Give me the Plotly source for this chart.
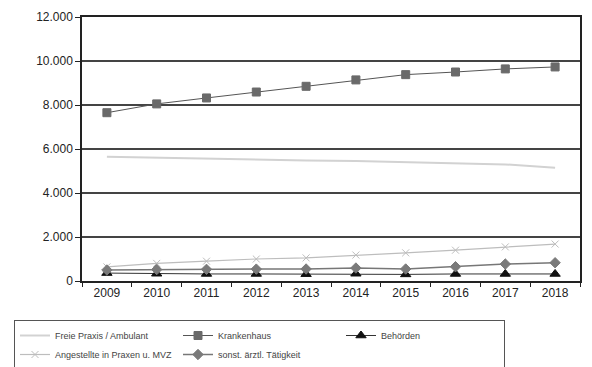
import plotly.graph_objects as go

years = ["2009", "2010", "2011", "2012", "2013", "2014", "2015", "2016", "2017", "2018"]

freie_praxis = [5650, 5600, 5550, 5520, 5480, 5450, 5400, 5350, 5300, 5150]
krankenhaus = [7650, 8050, 8320, 8590, 8850, 9140, 9380, 9500, 9640, 9730]
behoerden = [360, 330, 320, 320, 310, 330, 300, 320, 320, 320]
angestellte = [640, 800, 900, 1000, 1050, 1180, 1280, 1400, 1550, 1680]
sonst = [500, 520, 530, 540, 545, 590, 545, 650, 770, 830]

y_ticks = [0, 2000, 4000, 6000, 8000, 10000, 12000]
y_labels = ["0", "2.000", "4.000", "6.000", "8.000", "10.000", "12.000"]

# name, values, line colour, line width, marker symbol, marker colour, marker size, mode
series = [
    ("Freie Praxis / Ambulant", freie_praxis, "#d2d2d2", 2, "x-thin", "#d2d2d2", 5, "lines"),
    ("Krankenhaus", krankenhaus, "#555555", 1, "square", "#6a6a6a", 8, "lines+markers"),
    ("Behörden", behoerden, "#333333", 1, "triangle-up", "#111111", 9, "lines+markers"),
    ("Angestellte in Praxen u. MVZ", angestellte, "#bdbdbd", 1.2, "x-thin", "#bdbdbd", 7, "lines+markers"),
    ("sonst. ärztl. Tätigkeit", sonst, "#777777", 1.5, "diamond", "#7a7a7a", 8, "lines+markers"),
]

fig = go.Figure()
for name, vals, lc, lw, sym, mc, ms, mode in series:
    fig.add_trace(go.Scatter(
        x=years, y=vals, name=name, mode=mode,
        line=dict(color=lc, width=lw),
        marker=dict(symbol=sym, color=mc, size=ms,
                    line=dict(color=mc, width=1)),
    ))

fig.update_layout(
    width=592, height=367,
    margin=dict(l=82, r=10, t=16, b=86),
    paper_bgcolor="white", plot_bgcolor="white",
    font=dict(family="Liberation Sans, Arial, sans-serif", color="#222222"),
    showlegend=True,
    legend=dict(
        orientation="h",
        xref="container", yref="container",
        x=14 / 592, y=1 - 320 / 367, xanchor="left", yanchor="top",
        font=dict(size=9, color="#444444"),
        entrywidth=118, itemwidth=30,
        bordercolor="#555555", borderwidth=1,
        tracegroupgap=0,
    ),
)

fig.update_xaxes(
    type="category", range=[-0.5, 9.5],
    showline=True, linecolor="#222222", linewidth=1.5, mirror=True,
    ticks="outside", tickson="boundaries", ticklen=4, tickcolor="#222222",
    showgrid=False, tickfont=dict(size=12, color="#222222"),
)
fig.update_yaxes(
    range=[0, 12000], tickvals=y_ticks, ticktext=y_labels,
    showline=True, linecolor="#222222", linewidth=1.5, mirror=True,
    ticks="outside", ticklen=5, tickcolor="#222222",
    showgrid=True, gridcolor="#444444", gridwidth=1.5,
    zeroline=False, tickfont=dict(size=12, color="#222222"),
)

fig.write_html("out.html")
